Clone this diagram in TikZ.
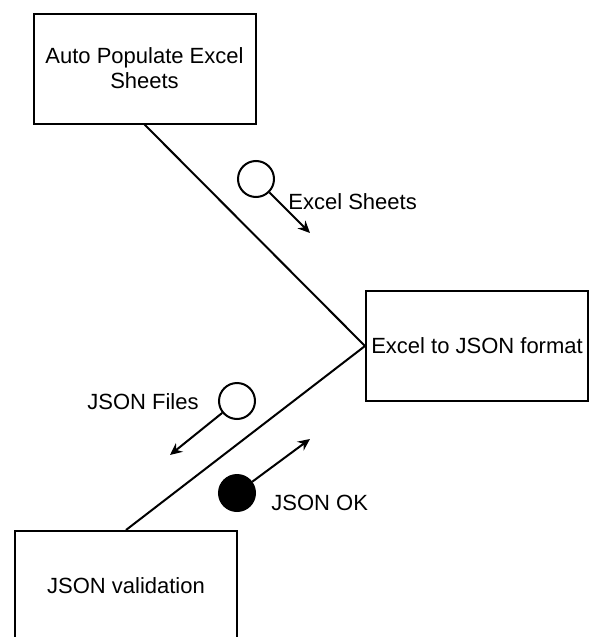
\documentclass[tikz,border=0pt]{standalone}
\usepackage{fontspec}
\setmainfont{Liberation Sans}
\usetikzlibrary{arrows.meta}
\begin{document}
\begin{tikzpicture}[x=0.5pt,y=-0.5pt,
  stepbox/.style={draw, line width=1pt, minimum width=111pt, minimum height=55pt, inner sep=0pt, align=center, font=\fontsize{11}{12.5}\selectfont},
  token/.style={draw, circle, line width=1pt, minimum size=18pt, inner sep=0pt},
  lbl/.style={inner sep=0pt, font=\fontsize{11}{13}\selectfont},
  flow/.style={line width=1pt},
  msg/.style={line width=1pt, -{Stealth[length=6pt,width=5.5pt]}}]
\useasboundingbox (0,0) rectangle (590,637);
\node[stepbox] (autopop) at (144.5,68.5) {Auto Populate Excel\\Sheets};
\node[stepbox] (exceljson) at (477,346) {Excel to JSON format};
\node[stepbox] (validate) at (126,586) {JSON validation};
\draw[flow] (autopop.south) -- (exceljson.west);
\draw[flow] (exceljson.west) -- (validate.north);
% messages
\node[token] (sheetsmsg) at (256,179) {}; \coordinate (sheetstip) at (310,233);
\draw[msg] (sheetsmsg) -- (sheetstip); \node[lbl, anchor=west] (sheetslbl) at (288,202) {Excel Sheets};
\node[token] (filesmsg) at (237,401) {}; \coordinate (filestip) at (170,455);
\draw[msg] (filesmsg) -- (filestip); \node[lbl, anchor=east] (fileslbl) at (199,402) {JSON Files};
\node[token, fill=black] (okmsg) at (237,493) {}; \coordinate (oktip) at (310,439);
\draw[msg] (okmsg) -- (oktip); \node[lbl, anchor=west] (oklbl) at (271,503) {JSON OK};
\end{tikzpicture}
\end{document}
